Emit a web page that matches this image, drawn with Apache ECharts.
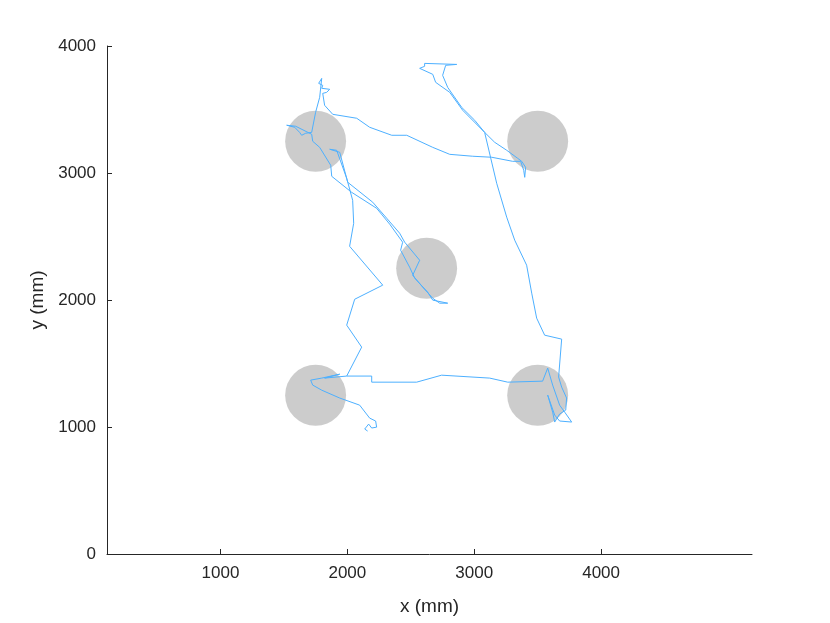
<!DOCTYPE html>
<html>
<head>
<meta charset="utf-8">
<script src="https://cdn.jsdelivr.net/npm/echarts@6/dist/echarts.min.js"></script>
<style>html,body{margin:0;padding:0;background:#fff}#c{width:830px;height:623px}</style>
</head>
<body>
<div id="c"></div>
<script>
// Obstacles (mm)
const circleX = [1750, 3500, 2625, 1750, 3500];
const circleY = [3250, 3250, 2250, 1250, 1250];
const circleR = 240;

// Trajectory (mm)
const pathX = [2160,2137,2168,2192,2231,2223,2176,2097,1940,1798,1727,1711,1798,1940,1821,1995,2192,2192,2546,2743,3122,3264,3539,3579,3618,3673,3713,3768,3673,3634,3579,3618,3634,3673,3721,3728,3689,3665,3689,3555,3492,3453,3413,3319,3256,3177,3082,2909,2807,2696,2673,2570,2609,2609,2862,2775,2751,2791,2901,3004,3082,3161,3256,3342,3374,3405,3398,3390,3366,3303,3138,2988,2807,2673,2468,2350,2176,2074,1885,1821,1806,1837,1861,1798,1806,1774,1798,1782,1750,1719,1672,1640,1624,1585,1522,1593,1719,1727,1782,1869,1877,2034,2231,2334,2436,2420,2491,2531,2633,2673,2791,2728,2673,2594,2515,2570,2452,2412,2310,2200,2003,1940,1861,1916,1995,2042,2050,2018,2279,2058,1995,2113,1995];
const pathY = [968,984,1023,992,999,1047,1070,1172,1228,1290,1330,1369,1385,1416,1385,1401,1401,1353,1353,1408,1385,1353,1361,1464,1330,1172,1117,1039,1047,1094,1251,1117,1039,1102,1133,1228,1314,1393,1692,1723,1857,2054,2274,2471,2652,2919,3320,3494,3635,3714,3777,3824,3840,3863,3855,3848,3769,3674,3517,3415,3320,3242,3179,3116,3092,3045,2966,3021,3092,3092,3124,3132,3147,3202,3297,3297,3360,3431,3462,3533,3627,3635,3659,3667,3690,3706,3745,3596,3478,3320,3313,3297,3320,3360,3376,3368,3305,3250,3202,3061,2974,2848,2722,2597,2455,2392,2258,2172,2062,1999,1975,1975,2014,2101,2195,2313,2455,2526,2644,2770,2927,3163,3187,3179,2958,2785,2604,2423,2117,2006,1802,1629,1401];

const xTicks = [1000, 2000, 3000, 4000];
const yMin = 0, yMax = 4000, yStep = 1000;
const xMin = 106, xMax = 5189;

const pathData = pathX.map((x, i) => [x, pathY[i]]);
const circleData = circleX.map((x, i) => [x, circleY[i], circleR]);

const textColor = '#262626';
const fontFam = "'Liberation Sans', Arial, Helvetica, sans-serif";
const plain = v => String(v);

const chart = echarts.init(document.getElementById('c'), null, {renderer: 'canvas'});
chart.setOption({
  animation: false,
  backgroundColor: '#ffffff',
  grid: {left: 107, right: 78, top: 46, bottom: 69, containLabel: false},
  xAxis: {
    type: 'value', min: xMin, max: xMax,
    name: 'x (mm)', nameLocation: 'middle', nameGap: 43,
    nameTextStyle: {color: textColor, fontSize: 19, fontFamily: fontFam},
    axisLine: {show: true, onZero: false, lineStyle: {color: '#262626', width: 1}},
    axisTick: {show: true, inside: true, length: 5, customValues: xTicks, lineStyle: {color: '#262626'}},
    axisLabel: {show: true, customValues: xTicks, formatter: plain, color: textColor, fontSize: 17, fontFamily: fontFam, margin: 11},
    splitLine: {show: false}
  },
  yAxis: {
    type: 'value', min: yMin, max: yMax, interval: yStep,
    name: 'y (mm)', nameLocation: 'middle', nameGap: 55, nameRotate: 90,
    nameTextStyle: {color: textColor, fontSize: 19, fontFamily: fontFam},
    axisLine: {show: true, onZero: false, lineStyle: {color: '#262626', width: 1}},
    axisTick: {show: true, inside: true, length: 5, lineStyle: {color: '#262626'}},
    axisLabel: {show: true, formatter: plain, color: textColor, fontSize: 17, fontFamily: fontFam, margin: 11},
    splitLine: {show: false}
  },
  series: [
    {
      type: 'custom',
      data: circleData,
      z: 1,
      silent: true,
      renderItem: function (params, api) {
        const c = api.coord([api.value(0), api.value(1)]);
        const r = api.size([api.value(2), api.value(2)]);
        return {type: 'circle', shape: {cx: c[0], cy: c[1], r: (r[0] + r[1]) / 2}, style: {fill: '#cccccc'}};
      }
    },
    {
      type: 'line',
      data: pathData,
      z: 2,
      showSymbol: false,
      symbol: 'none',
      lineStyle: {color: '#4db0ff', width: 1},
      silent: true
    }
  ]
});
</script>
</body>
</html>
